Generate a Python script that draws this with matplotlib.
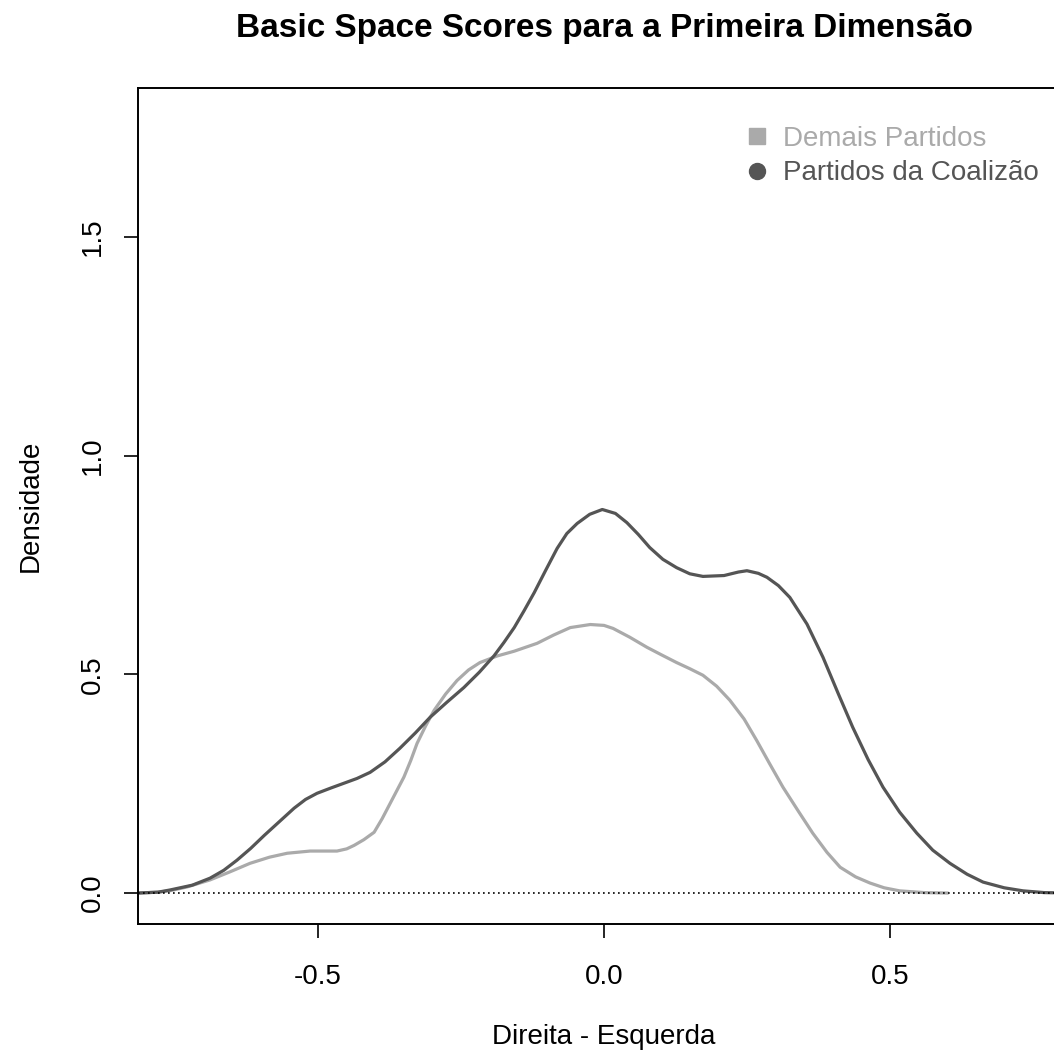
import matplotlib
matplotlib.use("Agg")
import matplotlib.pyplot as plt
from matplotlib.lines import Line2D

plt.rcParams['font.family'] = ['Liberation Sans', 'DejaVu Sans']

# Density curves
x_coal = [-0.815, -0.780, -0.759, -0.720, -0.689, -0.665, -0.642, -0.618, -0.594,
          -0.568, -0.542, -0.522, -0.502, -0.478, -0.455, -0.432, -0.409, -0.383,
          -0.357, -0.330, -0.304, -0.275, -0.245, -0.218, -0.192, -0.175, -0.157,
          -0.140, -0.122, -0.102, -0.082, -0.065, -0.047, -0.025, -0.003, 0.020,
          0.040, 0.060, 0.080, 0.103, 0.127, 0.150, 0.173, 0.210, 0.235, 0.250,
          0.270, 0.285, 0.305, 0.325, 0.355, 0.383, 0.410, 0.435, 0.462, 0.488,
          0.517, 0.547, 0.575, 0.605, 0.635, 0.663, 0.700, 0.733, 0.770, 0.815]
y_coal = [0.000, 0.002, 0.007, 0.018, 0.034, 0.052, 0.075, 0.102, 0.132,
          0.163, 0.194, 0.214, 0.228, 0.240, 0.251, 0.262, 0.276, 0.300,
          0.331, 0.366, 0.402, 0.436, 0.470, 0.505, 0.543, 0.573, 0.607,
          0.645, 0.687, 0.738, 0.788, 0.822, 0.845, 0.866, 0.877, 0.868,
          0.847, 0.820, 0.790, 0.763, 0.744, 0.730, 0.724, 0.726, 0.734, 0.737,
          0.731, 0.722, 0.703, 0.676, 0.615, 0.539, 0.455, 0.379, 0.305, 0.242,
          0.185, 0.137, 0.098, 0.068, 0.043, 0.025, 0.012, 0.005, 0.001, 0.000]

x_dem = [-0.815, -0.780, -0.760, -0.729, -0.689, -0.655, -0.619, -0.585, -0.554,
         -0.514, -0.467, -0.450, -0.437, -0.420, -0.402, -0.388, -0.374, -0.362,
         -0.350, -0.338, -0.327, -0.312, -0.297, -0.277, -0.257, -0.237, -0.217,
         -0.187, -0.157, -0.117, -0.088, -0.059, -0.024, 0.000, 0.016, 0.045,
         0.075, 0.100, 0.127, 0.150, 0.173, 0.197, 0.220, 0.245, 0.267, 0.290,
         0.313, 0.340, 0.365, 0.390, 0.413, 0.440, 0.465, 0.490, 0.517, 0.560,
         0.600]
y_dem = [0.000, 0.002, 0.005, 0.014, 0.030, 0.048, 0.068, 0.082, 0.091,
         0.096, 0.096, 0.101, 0.109, 0.122, 0.139, 0.170, 0.205, 0.235,
         0.265, 0.303, 0.342, 0.382, 0.418, 0.455, 0.486, 0.510, 0.527,
         0.542, 0.553, 0.571, 0.590, 0.607, 0.614, 0.612, 0.605, 0.585,
         0.562, 0.545, 0.527, 0.513, 0.498, 0.473, 0.441, 0.398, 0.349, 0.295,
         0.242, 0.187, 0.137, 0.093, 0.059, 0.037, 0.023, 0.012, 0.005, 0.001,
         0.000]

labels = ["Demais Partidos", "Partidos da Coalizão"]
light = "#aaaaaa"
dark = "#555555"

W, H = 1054, 1057
fig = plt.figure(figsize=(W / 100, H / 100), dpi=100)
# plot region runs past the right edge (the original was cropped)
ax = fig.add_axes([138 / W, 133 / H, 932 / W, 836 / H])

ax.plot(x_dem, y_dem, color=light, lw=2.3)
ax.plot(x_coal, y_coal, color=dark, lw=2.3)
ax.axhline(0, color="black", lw=1.2, ls=(0, (1, 2)))

ax.set_xlim(-0.815, 0.815)
ax.set_ylim(-0.0708, 1.8408)
ax.set_xticks([-0.5, 0.0, 0.5])
ax.set_yticks([0.0, 0.5, 1.0, 1.5])
ax.set_xticklabels(["-0.5", "0.0", "0.5"])
ax.set_yticklabels(["0.0", "0.5", "1.0", "1.5"], rotation=90, va="center")
ax.tick_params(labelsize=20, length=10, width=1.2, pad=19)
ax.tick_params(axis="y", pad=13)
for s in ax.spines.values():
    s.set_linewidth(1.4)
ax.spines["right"].set_visible(False)

ax.set_xlabel("Direita - Esquerda", fontsize=20, labelpad=24)
ax.set_ylabel("Densidade", fontsize=20, labelpad=26)
ax.set_title("Basic Space Scores para a Primeira Dimensão", fontsize=24,
             fontweight="bold", pad=37)

handles = [Line2D([], [], ls="none", marker="s", ms=11.5, color=light),
           Line2D([], [], ls="none", marker="o", ms=11.5, color=dark)]
leg = ax.legend(handles, labels, loc="upper left",
                bbox_to_anchor=(744 / W, 1 - 126 / H), bbox_transform=fig.transFigure,
                frameon=False, fontsize=20, handlelength=0.9, handletextpad=0.5,
                labelspacing=0.3, borderpad=0, borderaxespad=0)
for t, c in zip(leg.get_texts(), [light, dark]):
    t.set_color(c)

fig.savefig("out.png", dpi=100)
